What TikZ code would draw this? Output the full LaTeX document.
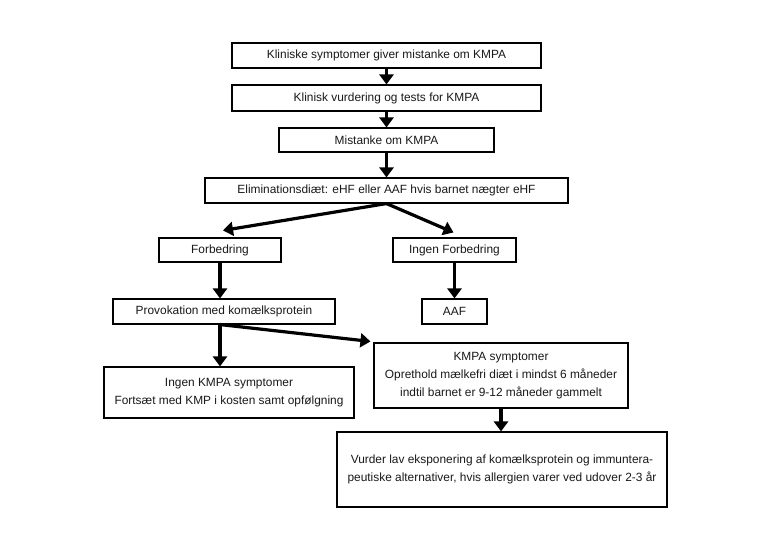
\documentclass[tikz,border=0pt]{standalone}
\usepackage{fontspec}
\setmainfont{Liberation Sans}
\usetikzlibrary{arrows.meta}
\tikzset{
  box/.style={draw=black, line width=1.1pt, fill=white, inner sep=0pt, align=center,
    font=\fontsize{11.9}{18}\selectfont, text=black!90},
  arr/.style={line width=3.2pt, draw=black, -{Triangle[width=14pt,length=10pt]}}
}
\begin{document}
\begin{tikzpicture}[x=1pt,y=-1pt]
\useasboundingbox[fill=white] (0,0) rectangle (761,549);
\node[box, minimum width=309pt, minimum height=25pt] (b1) at (386.5,55.5) {Kliniske symptomer giver mistanke om KMPA};
\node[box, minimum width=309pt, minimum height=26pt] (b2) at (386.5,98) {Klinisk vurdering og tests for KMPA};
\node[box, minimum width=215pt, minimum height=24pt] (b3) at (386.5,140) {Mistanke om KMPA};
\node[box, minimum width=363pt, minimum height=25pt] (b4) at (386.5,190.5) {Eliminationsdiæt: eHF eller AAF hvis barnet nægter eHF};
\node[box, minimum width=122pt, minimum height=24pt] (f) at (220,250) {Forbedring};
\node[box, minimum width=123pt, minimum height=24pt] (ifb) at (454.5,250) {Ingen Forbedring};
\node[box, minimum width=222pt, minimum height=25pt] (prov) at (224,311.5) {Provokation med komælksprotein};
\node[box, minimum width=65pt, minimum height=25pt] (aaf) at (454.5,311.5) {AAF};
\node[box, minimum width=250pt, minimum height=51pt] (ik) at (229,392.5) {Ingen KMPA symptomer\\Fortsæt med KMP i kosten samt opfølgning};
\node[box, minimum width=254pt, minimum height=65pt] (ks) at (501,375.5) {KMPA symptomer\\Oprethold mælkefri diæt i mindst 6 måneder\\indtil barnet er 9-12 måneder gammelt};
\node[box, minimum width=330pt, minimum height=75pt] (vu) at (502,469.5) {Vurder lav eksponering af komælksprotein og immuntera-\\peutiske alternativer, hvis allergien varer ved udover 2-3 år};

\draw[arr] (b1.south) -- (b2.north);
\draw[arr] (b2.south) -- (b3.north);
\draw[arr] (b3.south) -- (b4.north);
\draw[arr] (b4.south) -- ([xshift=3pt,yshift=7pt]f.north);
\draw[arr] (b4.south) -- ([xshift=-1pt,yshift=5pt]ifb.north);
\draw[arr] (f.south) -- (f.south |- prov.north);
\draw[arr] (ifb.south) -- (aaf.north);
\draw[arr] ([xshift=-4pt]prov.south) -- ([xshift=-4pt]prov.south |- ik.north);
\draw[arr] ([xshift=-4pt]prov.south) -- ([xshift=-3pt,yshift=1pt]ks.north west);
\draw[arr] (ks.south) -- (ks.south |- vu.north);
\end{tikzpicture}
\end{document}
